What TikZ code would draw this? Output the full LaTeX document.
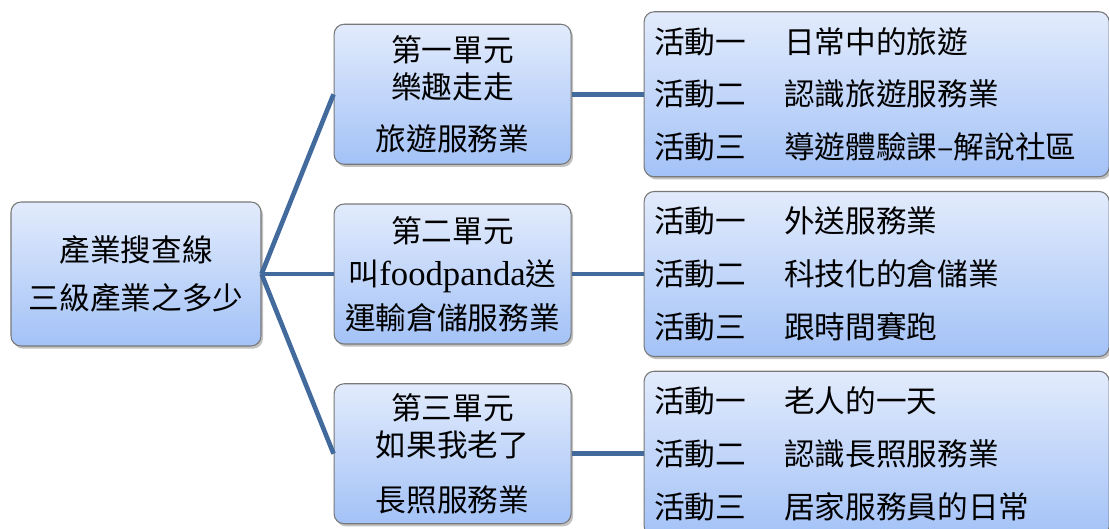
\documentclass[tikz,border=0pt]{standalone}
\usepackage{fontspec}
\setmainfont{Liberation Serif}
\newfontfamily\cjk{Noto Sans CJK TC}
\usetikzlibrary{positioning, shadows}
\definecolor{boxtop}{RGB}{226,235,252}
\definecolor{boxbottom}{RGB}{163,194,247}
\definecolor{boxline}{RGB}{120,120,120}
\definecolor{linkblue}{RGB}{66,106,156}
\newcommand{\actline}[2]{\makebox[97.5pt][l]{活動#1}#2}
\tikzset{
  card/.style={rectangle, draw=boxline, line width=0.8pt, rounded corners=7.5pt, top color=boxtop, bottom color=boxbottom, drop shadow={shadow xshift=1.5pt, shadow yshift=-2pt, fill=black!40, opacity=0.6}, font=\cjk\fontsize{23}{27.6}\selectfont},
  rootbox/.style={card, minimum width=187.5pt, minimum height=108pt, align=center},
  unitbox/.style={card, minimum width=177.75pt, minimum height=105pt, align=center},
  actbox/.style={card, minimum height=123.75pt, text width=333.75pt, inner xsep=7.5pt, align=left},
  link/.style={draw=linkblue, line width=3.5pt}
}

\begin{document}
\begin{tikzpicture}[node distance=29pt and 54pt]
\useasboundingbox (0,0) rectangle (831.75pt,-396pt);

% Root
\node[rootbox] (root) at (102pt,-205.5pt) {產業搜查線\\[8pt]三級產業之多少};

% Units
\node[unitbox, right=of root] (unit2) {第二單元\\[5pt]叫{\rmfamily\fontsize{26}{28}\selectfont foodpanda}送\\[5pt]運輸倉儲服務業};
\node[unitbox, above=of unit2] (unit1) {第一單元\\樂趣走走\\[12pt]旅遊服務業};
\node[unitbox, below=of unit2] (unit3) {第三單元\\如果我老了\\[14pt]長照服務業};

% Activities
\node[actbox, right=of unit1] (act1) {\actline{一}{日常中的旅遊}\\[12pt]\actline{二}{認識旅遊服務業}\\[12pt]\actline{三}{導遊體驗課–解說社區}};
\node[actbox, right=of unit2] (act2) {\actline{一}{外送服務業}\\[12pt]\actline{二}{科技化的倉儲業}\\[12pt]\actline{三}{跟時間賽跑}};
\node[actbox, right=of unit3] (act3) {\actline{一}{老人的一天}\\[12pt]\actline{二}{認識長照服務業}\\[12pt]\actline{三}{居家服務員的日常}};

% Connections
\draw[link] (root.east) -- (unit1.west);
\draw[link] (root.east) -- (unit2.west);
\draw[link] (root.east) -- (unit3.west);
\draw[link] (unit1.east) -- (act1.west);
\draw[link] (unit2.east) -- (act2.west);
\draw[link] (unit3.east) -- (act3.west);

\end{tikzpicture}
\end{document}
